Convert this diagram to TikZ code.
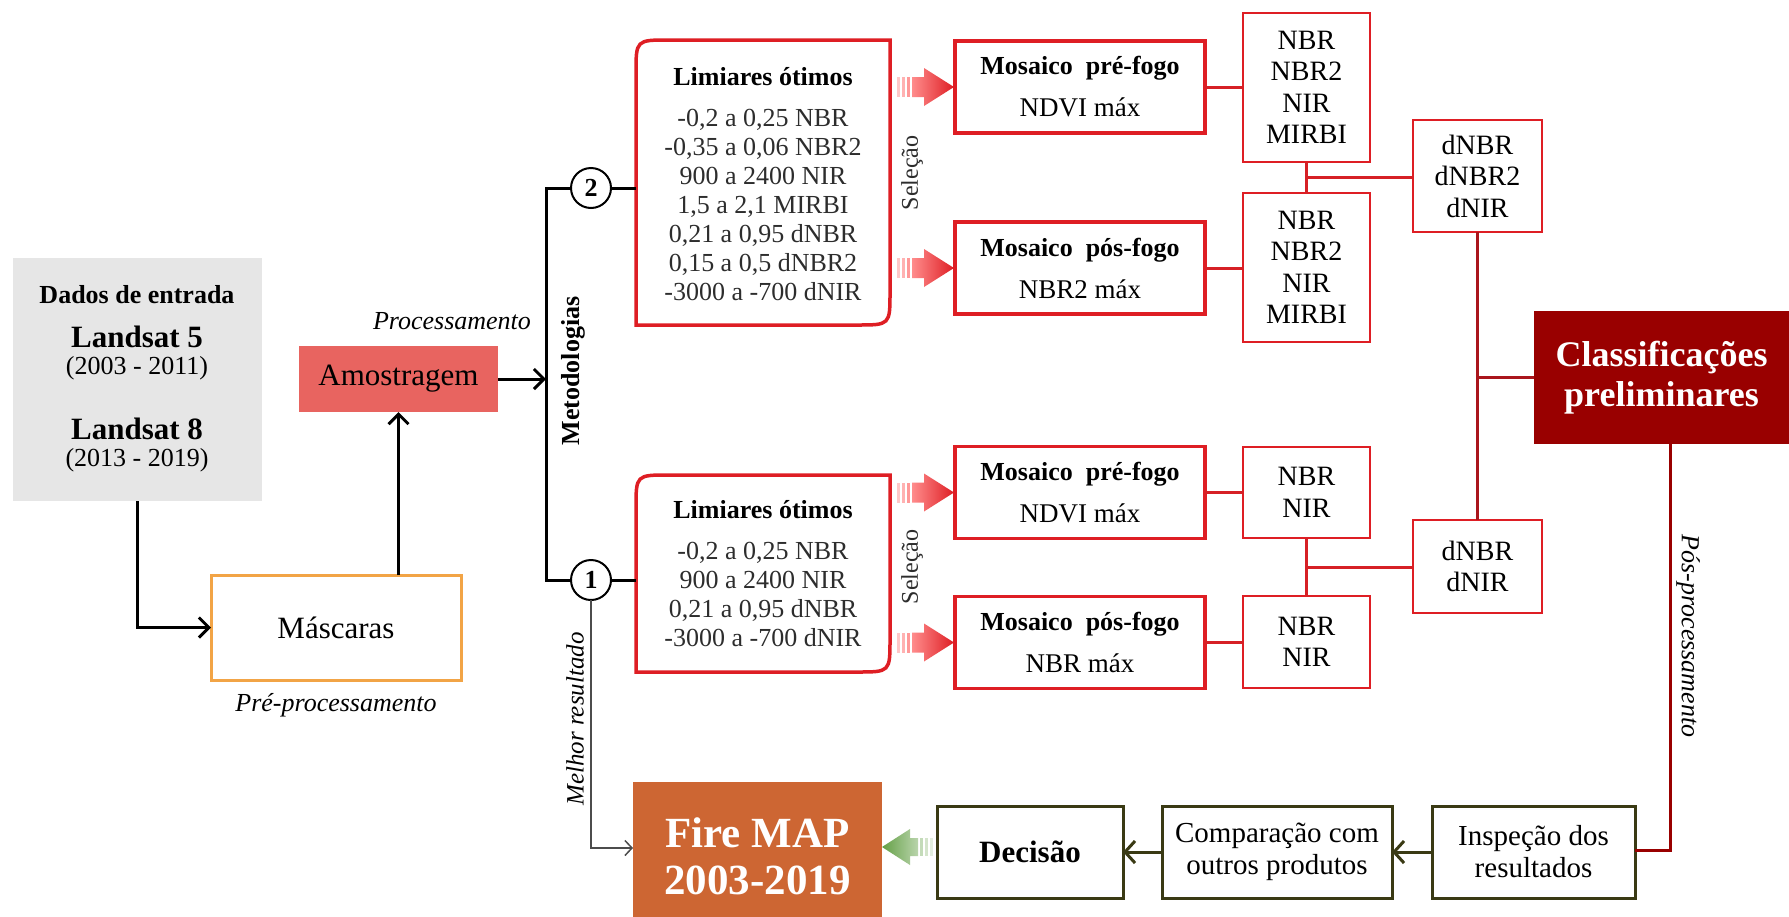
\documentclass[tikz,border=0pt]{standalone}
\usepackage{fontspec}
\setmainfont{LiberationSerif}[Extension=.ttf, UprightFont=*-Regular, BoldFont=*-Bold, ItalicFont=*-Italic, BoldItalicFont=*-BoldItalic]
\usetikzlibrary{arrows.meta,calc}
\definecolor{boxred}{RGB}{222,30,36}
\definecolor{linered}{RGB}{214,32,38}
\definecolor{darkred}{RGB}{153,0,0}
\definecolor{wine}{RGB}{170,22,28}
\definecolor{amofill}{RGB}{232,100,96}
\definecolor{maskorange}{RGB}{242,164,70}
\definecolor{datagray}{RGB}{230,230,230}
\definecolor{firefill}{RGB}{205,102,51}
\definecolor{olivec}{RGB}{58,58,20}
\definecolor{txtgray}{RGB}{45,45,45}
\definecolor{greenarr}{RGB}{100,160,70}
\newcommand{\fs}[2]{\fontsize{#1}{#2}\selectfont}
\tikzset{
  pics/fuzzyR/.style={code={
    \fill[red!22] (0,-10) rectangle (3,10);
    \fill[red!30] (5,-10) rectangle (8,10);
    \fill[red!40] (10,-10) rectangle (13,10);
    \shade[left color=red!45, right color=boxred] (15,-10) -- (27,-10) -- (27,-19) -- (57,0) -- (27,19) -- (27,10) -- (15,10) -- cycle;
  }},
  pics/fuzzyG/.style={code={
    \shade[left color=greenarr, right color=greenarr!45] (0,0) -- (28,-18) -- (28,-9) -- (36,-9) -- (36,9) -- (28,9) -- (28,18) -- cycle;
    \fill[greenarr!38] (38,-9) rectangle (41,9);
    \fill[greenarr!28] (43,-9) rectangle (46,9);
    \fill[greenarr!18] (48,-9) rectangle (51,9);
  }}
}
\begin{document}
\begin{tikzpicture}[x=1pt,y=-1pt,
  every node/.style={inner sep=0pt, outer sep=0pt},
  blkline/.style={draw=black, line width=3pt},
  blk/.style={blkline, -{Straight Barb[length=10pt,width=20pt]}},
  thinarr/.style={draw=black!70, line width=1.5pt, -{Straight Barb[length=7pt,width=15pt]}},
  olivearr/.style={draw=olivec, line width=3pt, -{Straight Barb[length=10pt,width=22pt]}},
  circ/.style={circle, draw=black, line width=2pt, fill=white, minimum size=40pt, font=\fs{26}{30}\bfseries},
  redborder/.style={draw=boxred, line width=3.5pt},
  limtext/.style={align=center, text=txtgray, font=\fs{26}{29}},
  mos/.style={draw=boxred, line width=3.5pt, minimum width=250pt, minimum height=92pt, align=center, font=\fs{26}{32}},
  idx/.style={draw=boxred, line width=2.5pt, minimum width=127pt, align=center, font=\fs{28}{31.5}},
  dbox/.style={draw=boxred, line width=2.5pt, minimum width=129pt, align=center, font=\fs{28}{31.5}},
  conn/.style={draw=linered, line width=3pt},
  wineline/.style={draw=wine, line width=3pt},
  ppline/.style={draw=darkred, line width=3pt},
  olivebox/.style={draw=olivec, line width=3pt, minimum height=92pt, align=center},
  sel/.style={font=\fs{24}{28}, text=txtgray, rotate=90}
]
\path[use as bounding box, fill=white] (0,0) rectangle (1789,916);

% input data
\node[fill=datagray, minimum width=249pt, minimum height=243pt] (data) at (137,379.5) {};
\node[font=\fs{26}{30}\bfseries] (dt1) at (137,295) {Dados de entrada};
\node[font=\fs{31}{34}\bfseries] (dt2) at (137,337) {Landsat 5};
\node[font=\fs{26}{30}] (dt3) at (137,368) {(2003 - 2011)};
\node[font=\fs{31}{34}\bfseries] (dt4) at (137,429) {Landsat 8};
\node[font=\fs{26}{30}] (dt5) at (137,460) {(2013 - 2019)};

\node[fill=amofill, minimum width=199pt, minimum height=66pt, font=\fs{31}{34}] (amo) at (398.5,379) {Amostragem};
\node[draw=maskorange, line width=3pt, minimum width=250pt, minimum height=105pt, font=\fs{31}{34}] (mask) at (336,627.5) {Máscaras};
\node[font=\fs{26}{30}\itshape] (proc) at (452,321) {Processamento};
\node[font=\fs{26}{30}\itshape] (prep) at (336,705) {Pré-processamento};

\draw[blk] (data.south) |- (mask.west);
\draw[blk] (mask.north -| amo.south) -- (amo.south);

% methodologies
\coordinate (vtop) at (546,188);
\coordinate (vbot) at (546,580);
\node[circ] (c2) at (591,188) {2};
\node[circ] (c1) at (591,580) {1};
\draw[blkline] (c2.west) -- (vtop) -- (vbot) -- (c1.west);
\draw[blk] (amo.east) -- (amo.east -| vtop);
\node[font=\fs{26}{30}\bfseries, rotate=90] (meto) at (573,371) {Metodologias};

% limiares 2
\node[minimum width=254pt, minimum height=285pt] (lim2) at (763,182.5) {};
\draw[redborder] (lim2.north east) -- ($(lim2.south east)+(0,-33)$) .. controls (lim2.south east) .. ($(lim2.south east)+(-33,0)$) -- (lim2.south west) -- ($(lim2.north west)+(0,33)$) .. controls (lim2.north west) .. ($(lim2.north west)+(33,0)$) -- cycle;
\node[limtext] (lim2t) at (763,184.5) {{\color{black}\bfseries Limiares ótimos}\\[12pt]-0,2 a 0,25 NBR\\-0,35 a 0,06 NBR2\\900 a 2400 NIR\\1,5 a 2,1 MIRBI\\0,21 a 0,95 dNBR\\0,15 a 0,5 dNBR2\\-3000 a -700 dNIR};
\draw[blkline] (c2.east) -- (c2.east -| lim2.west);

% limiares 1
\node[minimum width=254pt, minimum height=197pt] (lim1) at (763,573.5) {};
\draw[redborder] (lim1.north east) -- ($(lim1.south east)+(0,-33)$) .. controls (lim1.south east) .. ($(lim1.south east)+(-33,0)$) -- (lim1.south west) -- ($(lim1.north west)+(0,33)$) .. controls (lim1.north west) .. ($(lim1.north west)+(33,0)$) -- cycle;
\node[limtext] (lim1t) at (763,574) {{\color{black}\bfseries Limiares ótimos}\\[12pt]-0,2 a 0,25 NBR\\900 a 2400 NIR\\0,21 a 0,95 dNBR\\-3000 a -700 dNIR};
\draw[blkline] (c1.east) -- (c1.east -| lim1.west);

\node[sel] (sel2) at (912,173) {Seleção};
\node[sel] (sel1) at (912,567) {Seleção};

% mosaics
\node[mos] (mosA) at (1080,87) {\textbf{Mosaico~~pré-fogo}\\[10pt]{\fs{27}{32}NDVI máx}};
\node[mos] (mosB) at (1080,268) {\textbf{Mosaico~~pós-fogo}\\[10pt]{\fs{27}{32}NBR2 máx}};
\node[mos] (mosC) at (1080,492.5) {\textbf{Mosaico~~pré-fogo}\\[10pt]{\fs{27}{32}NDVI máx}};
\node[mos] (mosD) at (1080,642.5) {\textbf{Mosaico~~pós-fogo}\\[10pt]{\fs{27}{32}NBR máx}};

\pic at ($(lim2.east |- mosA.west)+(7,0)$) {fuzzyR};
\pic at ($(lim2.east |- mosB.west)+(7,0)$) {fuzzyR};
\pic at ($(lim1.east |- mosC.west)+(7,0)$) {fuzzyR};
\pic at ($(lim1.east |- mosD.west)+(7,0)$) {fuzzyR};

% index boxes
\node[idx, minimum height=149pt] (idxA) at (1306.5,87.5) {NBR\\NBR2\\NIR\\MIRBI};
\node[idx, minimum height=149pt] (idxB) at (1306.5,267.5) {NBR\\NBR2\\NIR\\MIRBI};
\node[idx, minimum height=91pt] (idxC) at (1306.5,492.5) {NBR\\NIR};
\node[idx, minimum height=92pt] (idxD) at (1306.5,642) {NBR\\NIR};

\draw[conn] (mosA.east) -- (mosA.east -| idxA.west);
\draw[conn] (mosB.east) -- (mosB.east -| idxB.west);
\draw[conn] (mosC.east) -- (mosC.east -| idxC.west);
\draw[conn] (mosD.east) -- (mosD.east -| idxD.west);

% difference boxes
\node[dbox, minimum height=112pt] (dA) at (1477.5,176) {dNBR\\dNBR2\\dNIR};
\node[dbox, minimum height=93pt] (dB) at (1477.5,566.5) {dNBR\\dNIR};

\draw[conn] (idxA.south) -- (idxB.north);
\coordinate (jA) at ($(idxA.south)!0.5!(idxB.north)$);
\draw[conn] (jA) -- (jA -| dA.west);
\draw[conn] (idxC.south) -- (idxD.north);
\coordinate (jC) at ($(idxC.south)!0.5!(idxD.north)$);
\draw[conn] (jC) -- (jC -| dB.west);

% classifications
\node[fill=darkred, minimum width=255pt, minimum height=133pt, text=white, font=\fs{36}{40}\bfseries, align=center] (cls) at (1661.5,377.5) {Classificações\\preliminares};
\draw[wineline] (dA.south) -- (dB.north);
\coordinate (jD) at (dA.south |- cls.west);
\draw[wineline] (jD) -- (cls.west);

% bottom row
\node[fill=firefill, minimum width=249pt, minimum height=148pt, text=white, font=\fs{43}{47}\bfseries, align=center] (fire) at (757.5,856) {Fire MAP\\2003-2019};
\node[olivebox, minimum width=186pt, font=\fs{31}{34}\bfseries] (dec) at (1030,852) {Decisão};
\node[olivebox, minimum width=230pt, font=\fs{29}{32}] (comp) at (1277,852) {Comparação com\\outros produtos};
\node[olivebox, minimum width=203pt, font=\fs{29}{32}] (insp) at (1533.5,852) {Inspeção dos\\resultados};
\draw[olivearr] (insp.west) -- (comp.east);
\draw[olivearr] (comp.west) -- (dec.east);
\pic at ($(fire.east |- dec.west)+(0,-5)$) {fuzzyG};

\coordinate (ppc) at (1670,850);
\draw[ppline] (cls.south -| ppc) -- (ppc) -- (ppc -| insp.east);
\node[font=\fs{26}{30}\itshape, rotate=-90] (pos) at (1688,636) {Pós-processamento};

% best result
\coordinate (mrc) at (591,848);
\draw[thinarr] (c1.south) -- (mrc) -- (mrc -| fire.west);
\node[font=\fs{25}{28}\itshape, rotate=90] (melhor) at (575,719) {Melhor resultado};
\end{tikzpicture}
\end{document}
